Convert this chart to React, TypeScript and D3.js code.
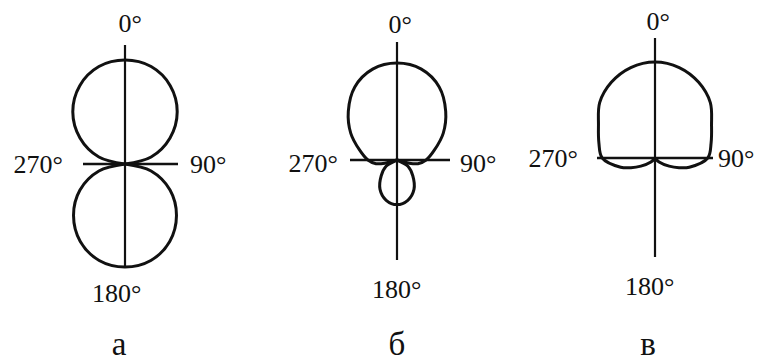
import React from 'react';
import * as d3 from 'd3';

// Polar patterns, r (front maximum = 1), angle in degrees, 0° up, clockwise
const eightAngles = [-90, -75, -60, -45, -30, -15, 0, 15, 30, 45, 60, 75, 90];
const eightFrontR = [0, 0.26, 0.5, 0.71, 0.87, 0.97, 1, 0.97, 0.87, 0.71, 0.5, 0.26, 0];
const eightRearR = [0, 0.26, 0.5, 0.7, 0.86, 0.96, 0.99, 0.96, 0.86, 0.7, 0.5, 0.26, 0];

const hyperFrontAngles = [-112, -105, -100, -90, -75, -60, -45, -30, -15, 0, 15, 30, 45, 60, 75, 90, 100, 105, 112];
const hyperFrontR = [0, 0.12, 0.22, 0.3, 0.4, 0.55, 0.71, 0.87, 0.97, 1, 0.97, 0.87, 0.71, 0.55, 0.4, 0.3, 0.22, 0.12, 0];
const hyperRearAngles = [112, 120, 135, 150, 165, 180, 195, 210, 225, 240, 248];
const hyperRearR = [0, 0.13, 0.23, 0.35, 0.43, 0.46, 0.43, 0.35, 0.23, 0.13, 0];

const cardAngles = [-180, -135, -120, -112, -105, -90, -75, -60, -45, -30, -15, 0, 15, 30, 45, 60, 75, 90, 105, 112, 120, 135, 180];
const cardR = [0, 0.06, 0.17, 0.27, 0.37, 0.55, 0.605, 0.68, 0.815, 0.91, 0.975, 1, 0.975, 0.91, 0.815, 0.68, 0.605, 0.55, 0.37, 0.27, 0.17, 0.06, 0];

const tickLabels = ['0°', '90°', '180°', '270°'];
const panelLetters = ['а', 'б', 'в'];

const zip = (angles: number[], rs: number[], shift = 0) =>
  angles.map((a, i) => ({ a: a + shift, r: rs[i] }));

const lobes = [
  [zip(eightAngles, eightFrontR), zip(eightAngles, eightRearR, 180)],
  [zip(hyperFrontAngles, hyperFrontR), zip(hyperRearAngles, hyperRearR)],
  [zip(cardAngles, cardR)],
];

// layout of each panel (pixels)
const panels = [
  { cx: 125, cy: 164, R: 104, up: 119, down: 103, left: 42, right: 53,
    top: [125, 32], lab270: [63, 173], lab90: [190, 173], lab180: [92, 302], letter: [119, 355] },
  { cx: 397, cy: 160, R: 97, up: 118, down: 100, left: 47, right: 53,
    top: [395, 33], lab270: [338, 172], lab90: [460, 172], lab180: [372, 298], letter: [397, 355] },
  { cx: 655, cy: 158, R: 96, up: 120, down: 99, left: 58, right: 58,
    top: [653, 30], lab270: [578, 167], lab90: [718, 167], lab180: [625, 295], letter: [648, 355] },
];

const serif = "'Liberation Serif', Tinos, 'Times New Roman', serif";

const App = () => {
  const width = 763;
  const height = 362;

  return (
    <svg width={width} height={height} style={{ position: 'absolute', left: 0, top: 0, background: '#fff' }}>
      {panels.map((p, pi) => {
        const rScale = d3.scaleLinear().domain([0, 1]).range([0, p.R]);
        const line = d3.lineRadial<{ a: number; r: number }>()
          .angle(d => (d.a * Math.PI) / 180)
          .radius(d => rScale(d.r))
          .curve(d3.curveCatmullRom.alpha(0.5));
        return (
          <g key={pi}>
            {/* axes */}
            <line x1={p.cx} x2={p.cx} y1={p.cy - p.up} y2={p.cy + p.down} stroke="#111" strokeWidth={2.2} />
            <line x1={p.cx - p.left} x2={p.cx + p.right} y1={p.cy} y2={p.cy} stroke="#111" strokeWidth={2.4} />
            {/* pattern */}
            <g transform={`translate(${p.cx},${p.cy})`}>
              {lobes[pi].map((pts, li) => (
                <path key={li} d={line(pts) || ''} fill="none" stroke="#111" strokeWidth={3} />
              ))}
            </g>
            <g style={{ fontFamily: serif, fontSize: 26 }} fill="#111">
              <text x={p.top[0] - 6.5} y={p.top[1]}>{tickLabels[0]}</text>
              <text x={p.lab90[0]} y={p.lab90[1]}>{tickLabels[1]}</text>
              <text x={p.lab180[0]} y={p.lab180[1]}>{tickLabels[2]}</text>
              <text x={p.lab270[0]} y={p.lab270[1]} textAnchor="end">{tickLabels[3]}</text>
            </g>
            <text x={p.letter[0]} y={p.letter[1]} textAnchor="middle" style={{ fontFamily: serif, fontSize: 33 }} fill="#111">
              {panelLetters[pi]}
            </text>
          </g>
        );
      })}
    </svg>
  );
};

export default App;
